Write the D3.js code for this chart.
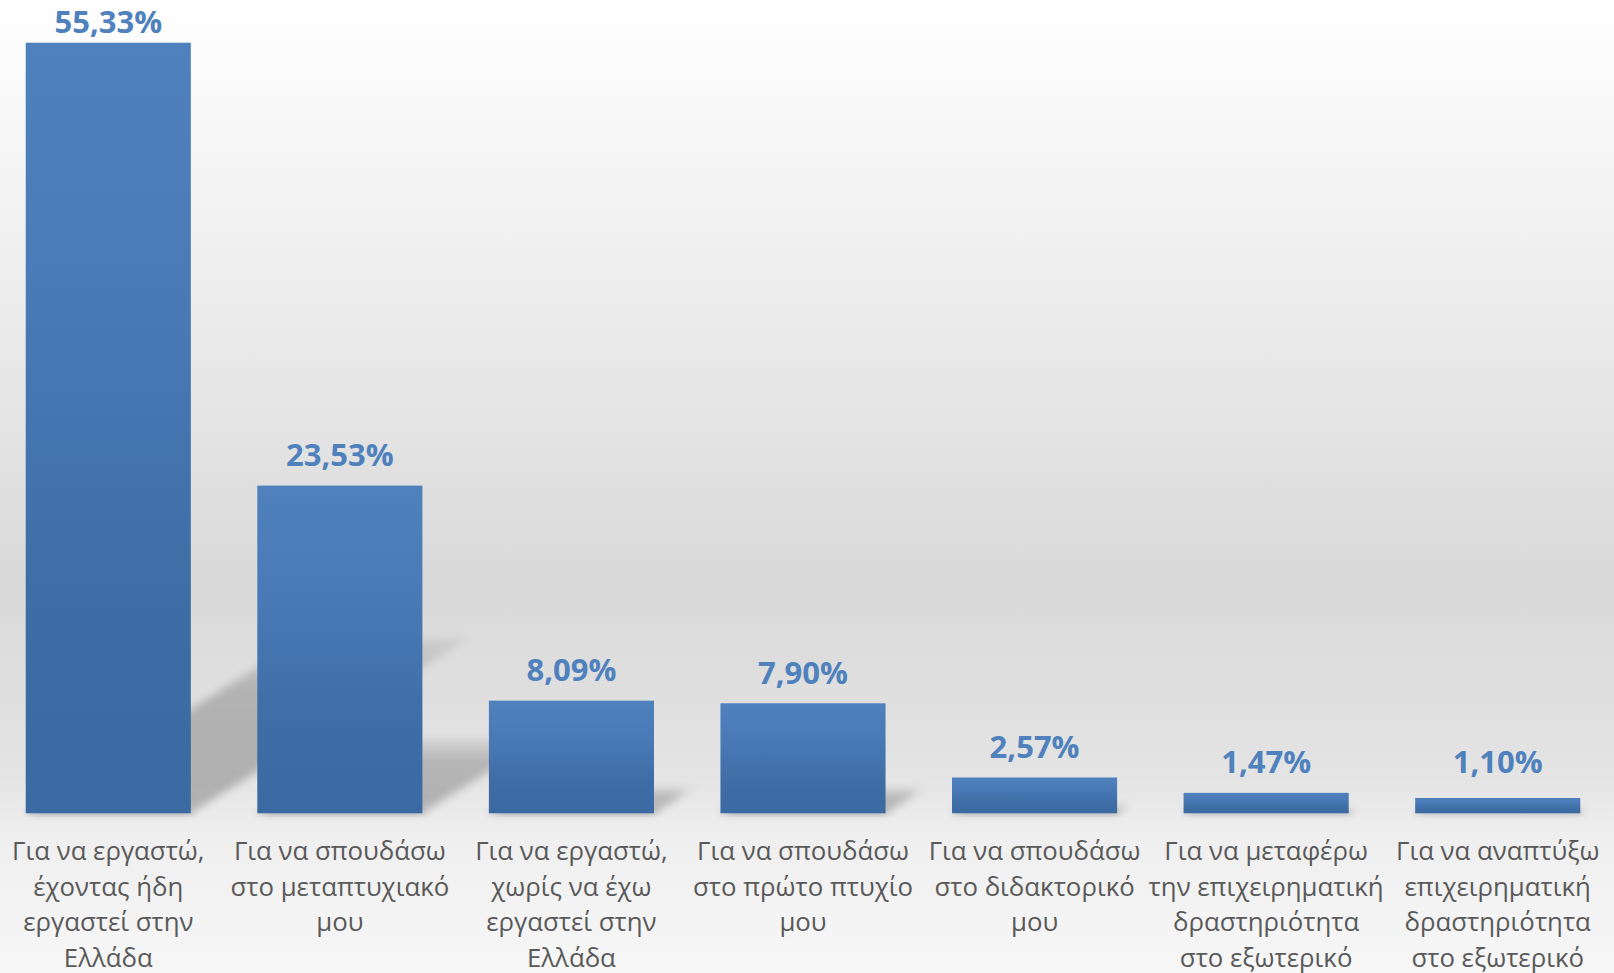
<!DOCTYPE html>
<html>
<head>
<meta charset="utf-8">
<script src="https://cdn.jsdelivr.net/npm/d3@7"></script>
<style>
  html, body { margin: 0; padding: 0; overflow: hidden; }
  svg { display: block; }
</style>
</head>
<body>
<script>
// chart data
const categories = [
    "Για να εργαστώ,\nέχοντας ήδη\nεργαστεί στην\nΕλλάδα",
    "Για να σπουδάσω\nστο μεταπτυχιακό\nμου",
    "Για να εργαστώ,\nχωρίς να έχω\nεργαστεί στην\nΕλλάδα",
    "Για να σπουδάσω\nστο πρώτο πτυχίο\nμου",
    "Για να σπουδάσω\nστο διδακτορικό\nμου",
    "Για να μεταφέρω\nτην επιχειρηματική\nδραστηριότητα\nστο εξωτερικό",
    "Για να αναπτύξω\nεπιχειρηματική\nδραστηριότητα\nστο εξωτερικό"
]
const values = [55.33, 23.53, 8.09, 7.90, 2.57, 1.47, 1.10]
const valueLabels = ["55,33%", "23,53%", "8,09%", "7,90%", "2,57%", "1,47%", "1,10%"]

const width = 1614
const height = 973
const baseY = 813.3

let svg = d3.select("body").append("svg")
    .attr("width", width)
    .attr("height", height)

let defs = svg.append("defs")

// background gradient
let bg = defs.append("linearGradient").attr("id", "bgGrad")
    .attr("x1", 0).attr("y1", 0).attr("x2", 0).attr("y2", 1)
bg.append("stop").attr("offset", 0).attr("stop-color", "#ffffff")
bg.append("stop").attr("offset", 0.3).attr("stop-color", "#ededed")
bg.append("stop").attr("offset", 0.6).attr("stop-color", "#d9d9d9")
bg.append("stop").attr("offset", 0.8).attr("stop-color", "#e4e4e4")
bg.append("stop").attr("offset", 0.86).attr("stop-color", "#efefef")
bg.append("stop").attr("offset", 1).attr("stop-color", "#f7f7f7")

// bar gradient
let barGrad = defs.append("linearGradient").attr("id", "barGrad")
    .attr("x1", 0).attr("y1", 0).attr("x2", 0).attr("y2", 1)
barGrad.append("stop").attr("offset", 0).attr("stop-color", "#4f81bd")
barGrad.append("stop").attr("offset", 0.3).attr("stop-color", "#4a7bb8")
barGrad.append("stop").attr("offset", 0.75).attr("stop-color", "#3e6ca4")
barGrad.append("stop").attr("offset", 1).attr("stop-color", "#3b69a1")

// shadow gradient, fades toward the top
let shGrad = defs.append("linearGradient").attr("id", "shGrad")
    .attr("x1", 0).attr("y1", 1).attr("x2", 0).attr("y2", 0)
shGrad.append("stop").attr("offset", 0).attr("stop-color", "#000").attr("stop-opacity", 0.24)
shGrad.append("stop").attr("offset", 0.7).attr("stop-color", "#000").attr("stop-opacity", 0.2)
shGrad.append("stop").attr("offset", 1).attr("stop-color", "#000").attr("stop-opacity", 0.06)

defs.append("filter").attr("id", "blur")
    .attr("x", "-20%").attr("y", "-20%").attr("width", "140%").attr("height", "140%")
    .append("feGaussianBlur").attr("stdDeviation", 4)

svg.append("rect")
    .attr("width", width)
    .attr("height", height)
    .attr("fill", "url(#bgGrad)")

let x = d3.scaleBand()
    .domain(d3.range(categories.length))
    .range([-7.5, 1613.5])
    .paddingInner(0.287)
    .paddingOuter(0.1435)

let y = d3.scaleLinear()
    .domain([0, 55.33])
    .range([baseY, 42.7])

// perspective shadows behind the bars
let shadows = svg.append("g").attr("filter", "url(#blur)")
shadows.selectAll("path")
    .data(values).enter()
    .append("path")
    .attr("fill", "url(#shGrad)")
    .attr("d", (d, i) => {
        let h = baseY - y(d)
        let x0 = x(i), x1 = x(i) + x.bandwidth()
        let dx = 0.36 * h, dy = 0.227 * h
        return "M" + x0 + "," + baseY + "L" + x1 + "," + baseY +
            "L" + (x1 + dx) + "," + (baseY - dy) + "L" + (x0 + dx) + "," + (baseY - dy) + "Z"
    })

// small soft shadow below each bar
svg.append("g").attr("filter", "url(#blur)")
    .selectAll("rect")
    .data(values).enter()
    .append("rect")
    .attr("x", (d, i) => x(i) + 2)
    .attr("y", baseY - 4)
    .attr("width", x.bandwidth())
    .attr("height", 6)
    .attr("fill", "#000")
    .attr("opacity", 0.12)

svg.append("g").selectAll("rect")
    .data(values).enter()
    .append("rect")
    .attr("x", (d, i) => x(i))
    .attr("y", d => y(d))
    .attr("width", x.bandwidth())
    .attr("height", d => baseY - y(d))
    .attr("fill", "url(#barGrad)")

// value labels (kept inside the chart, and not too close to the floor)
svg.append("g").selectAll("text")
    .data(values).enter()
    .append("text")
    .attr("x", (d, i) => x(i) + x.bandwidth() / 2)
    .attr("y", d => Math.min(Math.max(y(d) - 19.5, 33), baseY - 40))
    .attr("text-anchor", "middle")
    .style("font-family", "'Open Sans', 'Noto Sans', sans-serif")
    .style("font-weight", "bold")
    .style("font-size", "31px")
    .style("fill", "#4f81bd")
    .text((d, i) => valueLabels[i])

// category labels
let catLabels = svg.append("g").selectAll("text")
    .data(categories).enter()
    .append("text")
    .attr("text-anchor", "middle")
    .style("font-family", "'Open Sans', 'Noto Sans', sans-serif")
    .style("font-size", "25.8px")
    .style("fill", "#595959")

catLabels.selectAll("tspan")
    .data((d, i) => d.split("\n").map(line => ({ line: line, i: i })))
    .enter()
    .append("tspan")
    .attr("x", d => x(d.i) + x.bandwidth() / 2)
    .attr("y", (d, j) => 860 + j * 35.5)
    .text(d => d.line)
</script>
</body>
</html>
